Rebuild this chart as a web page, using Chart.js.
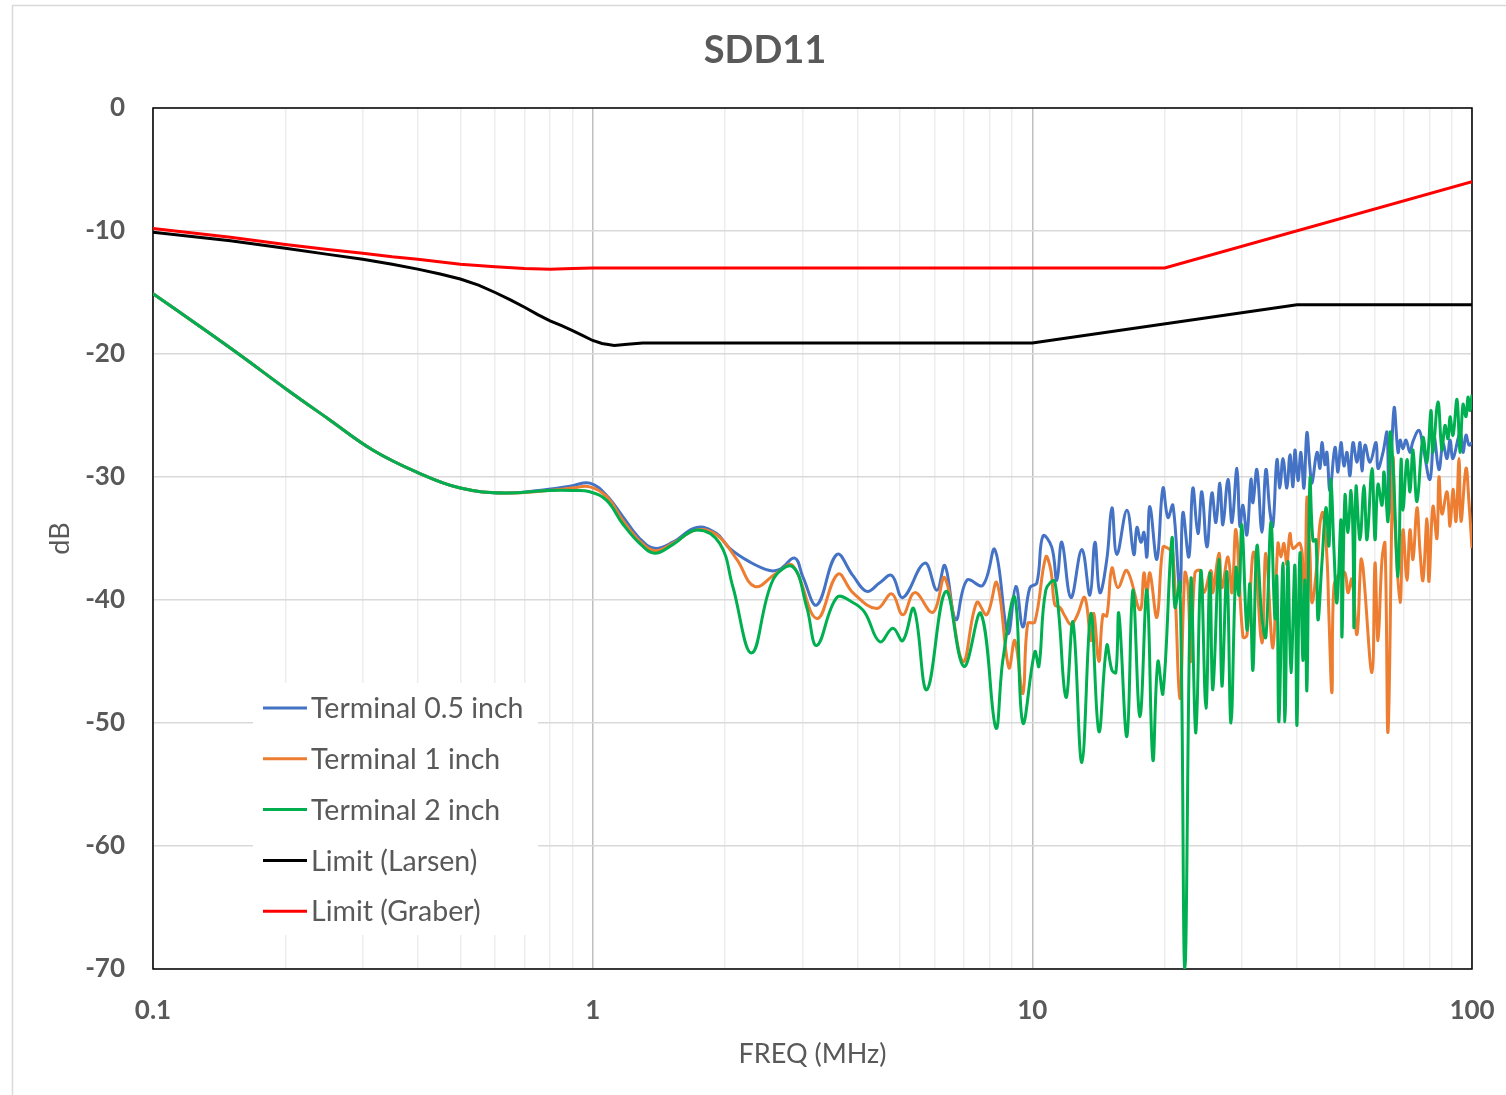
<!DOCTYPE html>
<html>
<head>
<meta charset="utf-8">
<script src="https://cdn.jsdelivr.net/npm/chart.js@4.4.1/dist/chart.umd.min.js"></script>
<style>
html,body{margin:0;padding:0;background:#fff}
canvas{display:block}
</style>
</head>
<body>
<canvas id="c" width="1506" height="1095"></canvas>
<script>
// ---- axes ----
const xTicks = [0.1,0.2,0.3,0.4,0.5,0.6,0.7,0.8,0.9,1,2,3,4,5,6,7,8,9,10,20,30,40,50,60,70,80,90,100];
const xLabels = [0.1,1,10,100];

// ---- Terminal 0.5 inch (MHz / dB) ----
const t05Freq = [0.1,0.126,0.158,0.2,0.251,0.316,0.398,0.5,0.631,0.794,0.9,0.985,1.076,1.17,1.279,1.384,1.521,1.724,1.914,2.05,2.276,2.527,2.664,2.882,3.005,3.235,3.592,3.905,4.202,4.498,4.789,5.074,5.693,6.064,6.324,6.697,7.096,7.718,8.217,8.797,9.174,9.515,9.87,10.24,10.57,11.07,11.37,11.67,12.24,12.96,13.52,13.88,14.24,14.77,15.17,15.57,16.41,17.02,17.29,17.66,17.94,18.22,18.51,19.2,19.82,20.34,20.88,21.66,22,22.7,23.18,23.8,24.3,24.95,25.61,26.15,26.71,27.13,27.86,28.45,29.2,29.66,30.13,30.76,31.42,31.75,32.42,33.28,33.98,34.7,35.25,36,36.57,37.15,37.93,38.54,39.15,39.56,40.19,40.82,41.47,42.12,42.79,43.25,44.4,45.1,45.57,46.3,46.78,47.53,48.79,49.56,50.35,51.15,51.96,52.78,53.62,54.75,55.62,56.2,57.1,58.61,60.49,61.12,62.75,64.08,64.76,66.48,67.9,68.62,69.66,70.77,72.26,73.41,75.75,77.35,80.24,81.93,84.11,85.89,87.74,89.13,90.53,93.91,95.39,96.91,98.44,100];
const t05Db = [-15.1,-17.6,-20.1,-22.8,-25.3,-27.8,-29.6,-30.9,-31.3,-31.0,-30.7,-30.5,-31.5,-33.2,-35.0,-35.8,-35.3,-34.1,-34.6,-35.8,-36.9,-37.6,-37.5,-36.6,-38.1,-40.4,-36.3,-38.0,-39.3,-38.6,-38.0,-39.8,-37.0,-39.2,-37.2,-41.6,-38.4,-38.8,-35.9,-42.7,-38.9,-42.2,-39.0,-38.6,-34.8,-35.7,-38.4,-35.3,-39.8,-35.9,-39.6,-35.3,-39.4,-36.7,-32.5,-36.3,-32.7,-36.3,-34.1,-35.3,-34.5,-36.5,-32.4,-36.7,-30.9,-33.3,-32.3,-39.4,-32.9,-36.5,-30.9,-34.6,-31.2,-35.7,-31.3,-33.7,-30.5,-33.9,-30.2,-33.7,-29.3,-34.0,-32.3,-34.7,-30.2,-32.1,-29.4,-34.5,-29.4,-32.8,-34.0,-28.6,-30.9,-28.5,-30.9,-28.2,-30.8,-27.8,-30.3,-28.0,-30.9,-26.4,-29.2,-30.5,-28.0,-29.3,-27.2,-29.0,-28.0,-31.1,-27.6,-29.6,-27.2,-29.1,-28.0,-29.9,-27.2,-28.8,-27.2,-29.5,-27.4,-28.8,-27.2,-29.3,-28.0,-26.4,-33.0,-24.4,-28.0,-27.0,-27.7,-27.0,-28.0,-27.1,-26.2,-27.5,-30.2,-26.7,-29.4,-27.3,-28.5,-27.0,-28.5,-26.4,-28.0,-26.6,-27.4,-27.2];

// ---- Terminal 1 inch ----
const t1Freq = [0.1,0.126,0.158,0.2,0.251,0.316,0.398,0.5,0.631,0.794,0.9,0.985,1.076,1.17,1.279,1.384,1.521,1.724,1.914,2.127,2.337,2.623,2.851,3.235,3.611,3.905,4.428,4.789,5.074,5.403,5.938,6.324,6.95,7.475,7.877,8.303,8.842,9.124,9.515,9.767,10.13,10.73,11.02,11.25,11.55,11.86,12.24,12.63,13.16,13.59,13.8,14.17,14.47,14.77,15.17,15.65,16.41,17.57,17.94,18.22,18.51,19.2,19.82,20.34,20.88,21.66,22.23,22.59,22.94,23.43,24.05,24.56,25.48,25.74,26.57,26.99,27.86,28.45,29.05,30.13,30.76,31.92,33.28,33.98,35.25,36.19,36.76,37.34,37.93,38.54,39.15,40.61,41.25,41.69,42.12,42.79,43.25,44.4,45.1,45.81,46.78,47.28,48.03,48.53,50.08,51.41,52.23,53.33,54.75,55.91,56.49,59.23,60.17,61.12,62.42,63.41,64.42,66.13,66.83,68.62,69.66,71.14,72.26,73.41,74.96,76.15,77.35,78.99,79.82,81.5,83.23,84.11,85.44,87.74,89.13,90.53,91.96,93.42,94.41,96.91,98.44,100];
const t1Db = [-15.1,-17.6,-20.1,-22.8,-25.3,-27.8,-29.6,-30.9,-31.3,-31.1,-30.9,-30.8,-31.6,-33.5,-35.2,-36.0,-35.4,-34.3,-34.7,-36.7,-38.9,-37.8,-37.2,-41.5,-37.9,-39.4,-40.7,-39.5,-41.2,-39.4,-41.0,-38.2,-45.0,-40.2,-41.2,-38.6,-45.5,-43.3,-47.6,-41.9,-41.8,-36.5,-37.6,-40.4,-40.6,-41.3,-42.0,-41.3,-39.8,-43.3,-41.1,-45.0,-41.2,-41.3,-37.4,-39.0,-37.6,-40.8,-37.8,-39.4,-37.8,-41.4,-35.7,-35.8,-36.2,-48.0,-37.8,-38.9,-45.0,-37.8,-37.6,-39.4,-37.6,-39.4,-36.2,-39.0,-36.5,-39.4,-34.3,-43.0,-42.9,-36.1,-43.5,-36.2,-43.9,-35.4,-36.5,-35.4,-37.1,-34.6,-35.8,-35.4,-37.3,-41.1,-31.7,-36.1,-40.2,-37.1,-33.8,-32.9,-36.5,-41.4,-47.5,-38.9,-37.8,-37.8,-39.4,-38.3,-42.8,-36.7,-37.3,-45.9,-37.0,-43.3,-36.7,-35.4,-50.7,-28.6,-34.0,-40.2,-34.3,-38.4,-34.3,-36.7,-32.5,-36.0,-38.4,-33.4,-38.5,-32.4,-35.0,-30.0,-33.0,-31.2,-34.0,-31.0,-33.6,-28.5,-33.6,-29.3,-32.1,-35.8];

// ---- Terminal 2 inch ----
const t2Freq = [0.1,0.126,0.158,0.2,0.251,0.316,0.398,0.5,0.631,0.794,0.9,0.985,1.076,1.17,1.279,1.384,1.521,1.724,1.945,2.083,2.3,2.568,2.851,3.069,3.235,3.592,3.905,4.157,4.498,4.816,5.074,5.375,5.754,6.357,6.985,7.635,8.26,8.568,9.124,9.515,10.13,10.35,10.73,11.25,11.92,12.37,12.96,13.59,14.17,14.77,15.17,15.49,15.73,16.41,16.93,17.57,18.22,18.8,19.3,19.82,20.77,21.1,21.66,22.23,22.94,23.55,24.18,24.82,25.34,25.74,26.57,26.99,27.7,28.3,29.05,29.51,29.97,30.76,31.25,31.75,32.42,33.28,33.98,34.88,35.63,36,36.38,37.15,37.54,38.13,38.74,39.56,39.98,40.61,41.25,41.69,42.12,42.79,43.48,44.17,44.63,45.57,46.54,47.28,47.78,48.53,49.3,50.35,50.61,51.41,52.23,53.06,53.62,53.9,54.47,55.62,56.8,57.7,59.23,60.17,61.12,62.42,63.08,64.42,65.1,66.13,67.9,68.98,69.66,71.14,72.26,73.41,74.96,77.35,78.99,80.66,81.5,83.67,85.44,86.81,88.2,89.13,90.53,92.44,93.91,95.39,96.91,97.93,98.96,100];
const t2Db = [-15.1,-17.6,-20.1,-22.8,-25.3,-27.8,-29.6,-30.9,-31.3,-31.1,-31.1,-31.2,-31.9,-33.8,-35.4,-36.2,-35.5,-34.3,-35.4,-38.9,-44.3,-38.4,-37.3,-40.6,-43.7,-39.8,-40.2,-41.0,-43.4,-42.3,-43.3,-40.7,-47.3,-39.3,-45.4,-41.1,-50.4,-44.9,-39.8,-50.0,-44.2,-45.4,-39.2,-38.5,-47.9,-41.8,-53.2,-41.1,-50.7,-43.7,-45.7,-45.9,-41.1,-51.1,-39.2,-49.5,-39.2,-53.0,-45.0,-47.6,-35.0,-40.6,-38.6,-70.0,-38.4,-50.8,-37.6,-48.8,-37.8,-47.3,-36.7,-47.0,-37.7,-50.0,-37.4,-39.6,-33.9,-42.4,-38.7,-45.7,-35.6,-41.5,-43.0,-33.7,-41.5,-38.1,-49.9,-37.0,-49.9,-36.9,-45.9,-37.2,-50.2,-36.2,-44.9,-38.4,-47.3,-30.2,-35.2,-35.1,-41.6,-37.0,-32.5,-35.6,-30.2,-35.9,-40.2,-33.5,-43.0,-31.5,-34.5,-31.1,-34.9,-42.2,-30.8,-35.1,-30.7,-35.1,-29.3,-35.1,-30.6,-32.3,-29.6,-33.6,-26.4,-29.0,-38.1,-28.6,-32.7,-28.6,-31.2,-27.8,-32.0,-26.8,-28.8,-24.6,-28.0,-23.9,-27.8,-25.8,-26.9,-25.1,-26.6,-23.7,-28.0,-24.1,-25.1,-23.5,-24.6,-23.3];

// ---- limits ----
const larsenFreq = [0.1,0.15,0.2,0.25,0.3,0.35,0.4,0.45,0.5,0.55,0.6,0.65,0.7,0.75,0.8,0.85,0.9,0.95,1,1.05,1.12,1.2,1.3,10,40,100];
const larsenDb = [-10.1,-10.8,-11.4,-11.9,-12.3,-12.7,-13.1,-13.5,-13.9,-14.4,-15.0,-15.6,-16.2,-16.8,-17.3,-17.7,-18.1,-18.5,-18.9,-19.15,-19.3,-19.2,-19.1,-19.1,-16.0,-16.0];
const graberFreq = [0.1,0.15,0.2,0.25,0.3,0.35,0.4,0.5,0.6,0.7,0.8,0.9,1,20,100];
const graberDb = [-9.8,-10.5,-11.1,-11.5,-11.8,-12.1,-12.3,-12.7,-12.9,-13.05,-13.1,-13.05,-13.0,-13.0,-6.0];

const pts = (f, d) => f.map((v, i) => ({x: v, y: d[i]}));
const grey = "#595959";
const font = "Lato, 'Open Sans', sans-serif";

const frame = {
  id: "frame",
  beforeDraw(chart){
    const c = chart.ctx;
    c.save(); c.strokeStyle = "#d9d9d9"; c.lineWidth = 1.5;
    c.strokeRect(12.5, 5.5, 1600, 1200);
    c.fillStyle = grey; c.font = "bold 38px " + font; c.textAlign = "center"; c.textBaseline = "middle";
    c.fillText("SDD11", 765, 51);
    c.restore();
  },
  beforeDatasetsDraw(chart){
    const {ctx: c, chartArea: a} = chart;
    c.save(); c.strokeStyle = "#000"; c.lineWidth = 1.5;
    c.strokeRect(a.left, a.top, a.right - a.left, a.bottom - a.top); c.restore();
  }
};

const boxLegend = {
  id: "boxLegend",
  afterDraw(chart){
    const {ctx: c, chartArea: a} = chart;
    const x0 = a.left + 100, y0 = a.top + 575;
    c.save();
    c.fillStyle = "#fff"; c.fillRect(x0, y0, 285, 252);
    c.font = "28.5px " + font; c.textBaseline = "middle";
    chart.data.datasets.forEach((d, i) => {
      const y = y0 + 25 + i * 50.8;
      c.strokeStyle = d.borderColor; c.lineWidth = 3;
      c.beginPath(); c.moveTo(x0 + 10, y); c.lineTo(x0 + 54, y); c.stroke();
      c.fillStyle = grey; c.fillText(d.label, x0 + 58, y + 1);
    });
    c.restore();
  }
};

const line = (label, color, data, order, tension) => ({label, data, borderColor: color, backgroundColor: color, borderWidth: 3, pointRadius: 0, tension, order, fill: false});

new Chart(document.getElementById("c"), {
  type: "line",
  data: {datasets: [
    line("Terminal 0.5 inch", "#4472C4", pts(t05Freq, t05Db), 5, 0.4),
    line("Terminal 1 inch", "#ED7D31", pts(t1Freq, t1Db), 4, 0.4),
    line("Terminal 2 inch", "#00B050", pts(t2Freq, t2Db), 3, 0.4),
    line("Limit (Larsen)", "#000000", pts(larsenFreq, larsenDb), 2, 0),
    line("Limit (Graber)", "#FF0000", pts(graberFreq, graberDb), 1, 0)
  ]},
  options: {
    responsive: false, animation: false, devicePixelRatio: 1,
    layout: {padding: {left: 0, right: 34, top: 108, bottom: 0}},
    plugins: {legend: {display: false}, tooltip: {enabled: false}, title: {display: false}},
    scales: {
      x: {
        type: "logarithmic", min: 0.1, max: 100,
        afterBuildTicks: s => { s.ticks = xTicks.map(v => ({value: v})); },
        afterFit: s => { s.height = 126; s.paddingLeft = 0; s.paddingRight = 0; },
        ticks: {autoSkip: false, maxRotation: 0, padding: 26, color: grey, font: {family: font, size: 26, weight: "bold"},
          callback: v => xLabels.includes(v) ? String(v) : ""},
        grid: {drawTicks: false, lineWidth: 1.5, color: ctx => ctx.tick && xLabels.includes(ctx.tick.value) ? "#bfbfbf" : "#ededed"},
        border: {display: false},
        title: {display: true, text: "FREQ (MHz)", color: grey, font: {family: font, size: 27}, padding: {top: 0, bottom: 25}}
      },
      y: {
        min: -70, max: 0,
        afterFit: s => { s.width = 153; s.paddingTop = 0; s.paddingBottom = 0; },
        ticks: {stepSize: 10, padding: 28, color: grey, font: {family: font, size: 26, weight: "bold"}},
        grid: {drawTicks: false, lineWidth: 1.5, color: "#d9d9d9"},
        border: {display: false},
        title: {display: true, text: "dB", color: grey, font: {family: font, size: 27}, padding: {top: 44, bottom: 0}}
      }
    }
  },
  plugins: [frame, boxLegend]
});
</script>
</body>
</html>
